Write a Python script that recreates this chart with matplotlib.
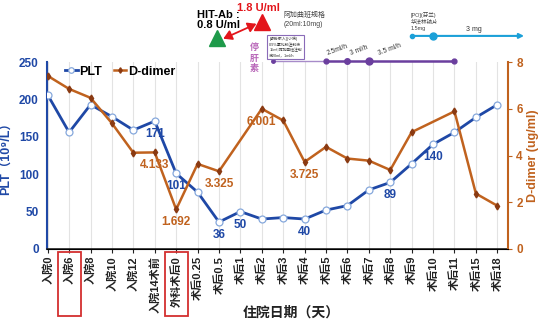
import numpy as np
import matplotlib
matplotlib.use("Agg")
import matplotlib.pyplot as plt
import matplotlib.patches as patches
import matplotlib.transforms as mtransforms

plt.rcParams['font.family'] = ['Liberation Sans', 'DejaVu Sans', 'Noto Sans CJK SC']

# Data
days = ['入院0', '入院6', '入院8', '入院10', '入院12', '入院14术前', '外科术后0',
        '术后0.25', '术后0.5', '术后1', '术后2', '术后3', '术后4', '术后5', '术后6',
        '术后7', '术后8', '术后9', '术后10', '术后11', '术后15', '术后18']
plt_vals = [206, 156, 193, 177, 159, 171, 101, 76, 36, 50, 40, 42, 40, 52, 58,
            79, 89, 114, 140, 156, 176, 193]
ddimer = [7.41, 6.85, 6.47, 5.38, 4.12, 4.133, 1.692, 3.64, 3.325, np.nan, 6.001,
          5.5, 3.725, 4.37, 3.87, 3.78, 3.38, 5.0, np.nan, 5.89, 2.37, 1.85]
plt_labels = {5: '171', 6: '101', 8: '36', 9: '50', 12: '40', 16: '89', 18: '140'}
dd_labels = {5: '4.133', 6: '1.692', 8: '3.325', 10: '6.001', 12: '3.725'}
boxed = [1, 6]

# purple heparin-substitute line, cyan warfarin line
arg_x = [10.5, 13, 14, 15, 19]
arg_ms = [2.5, 3.5, 4, 5, 3.5]
arg_rates = [(13, '2.5ml/h'), (14.1, '3 ml/h'), (15.4, '3.5 ml/h')]
warf_x = [17, 18]

c_plt = '#1f48a6'
c_dd = '#c0621e'
c_purple = '#6b3f9e'

x = np.arange(len(days))
dd = np.array(ddimer)
ok = ~np.isnan(dd)

fig = plt.figure(figsize=(5.41, 3.25), dpi=100)
ax = fig.add_axes([0.087, 0.234, 0.852, 0.575])
ax2 = ax.twinx()

for xi in x:
    ax.axvline(xi, color='#e3e3e3', lw=0.8, zorder=0)

l1, = ax.plot(x, plt_vals, color=c_plt, lw=2, marker='o', ms=5,
              mfc='white', mec='#86a8dc', mew=0.9, label='PLT', zorder=3)
l2, = ax2.plot(x[ok], dd[ok], color=c_dd, lw=1.8, marker='d', ms=3.5,
               mfc='#8a3a12', mec='#8a3a12', label='D-dimer', zorder=3)

for i, s in plt_labels.items():
    ax.annotate(s, (x[i], plt_vals[i]), xytext=(0, -5), textcoords='offset points',
                ha='center', va='top', color=c_plt, fontsize=8.5, fontweight='bold')
for i, s in dd_labels.items():
    ax2.annotate(s, (x[i], dd[i]), xytext=(0, -5), textcoords='offset points',
                 ha='center', va='top', color=c_dd, fontsize=8.5, fontweight='bold')

ax.set_xlim(-0.03, 21.5)
ax.set_ylim(0, 250)
ax2.set_ylim(0, 8)
ax.set_yticks([0, 50, 100, 150, 200, 250])
ax2.set_yticks([0, 2, 4, 6, 8])
ax.set_xticks(x)
ax.set_xticklabels(days, rotation=90, fontsize=8, fontweight='bold', color='#222222')
ax.tick_params(axis='x', length=3, pad=2, color='#222222')
ax.tick_params(axis='y', length=0, labelsize=8.5, labelcolor=c_plt, pad=6)
ax2.tick_params(axis='y', length=3, labelsize=8.5, labelcolor=c_dd, color=c_dd, pad=3)
for t in ax.get_yticklabels() + ax2.get_yticklabels():
    t.set_fontweight('bold')

for a in (ax, ax2):
    a.spines['top'].set_visible(False)
ax.spines['left'].set_color(c_plt)
ax.spines['left'].set_linewidth(1.5)
ax2.spines['left'].set_visible(False)
ax2.spines['right'].set_color(c_dd)
ax2.spines['right'].set_linewidth(1.5)
ax.spines['right'].set_visible(False)
ax.spines['bottom'].set_color('#222222')
ax.spines['bottom'].set_linewidth(1.2)

ax.set_ylabel('PLT（10⁹/L）', color=c_plt, fontsize=9, fontweight='bold', labelpad=4)
ax2.set_ylabel('D-dimer (ug/ml)', color=c_dd, fontsize=9, fontweight='bold', labelpad=3)
ax.set_xlabel('住院日期（天）', fontsize=10, fontweight='bold', color='#222222', labelpad=4)
ax.xaxis.set_label_coords(0.53, -0.305)

ax2.legend([l1, l2], ['PLT', 'D-dimer'], loc='upper left', bbox_to_anchor=(0.015, 1.04),
           ncol=2, frameon=False, handlelength=1.0, handletextpad=0.15, columnspacing=0.9,
           markerscale=0.8, prop={'weight': 'bold', 'size': 9})

# red boxes round two tick labels
bt = mtransforms.blended_transform_factory(ax.transData, fig.transFigure)
for i in boxed:
    fig.patches.append(patches.Rectangle((x[i] - 0.5, 1 - 316 / 325), 1.05, 64 / 325,
                                         transform=bt, fill=False, ec='#d32f2f', lw=1.3))

# annotations above the plot
tt = mtransforms.blended_transform_factory(ax.transData, ax.transAxes)
ax.plot([7.92], [1.13], marker='^', ms=11, color='#1e9a4a', transform=tt, clip_on=False)
ax.plot([10.02], [1.215], marker='^', ms=11, color='#e3151b', transform=tt, clip_on=False)
ax.annotate('', xy=(9.75, 1.205), xytext=(8.2, 1.125), xycoords=tt, textcoords=tt,
            arrowprops=dict(arrowstyle='<|-|>,head_length=0.5,head_width=0.3',
                            color='#e3151b', lw=1.3, mutation_scale=10,
                            shrinkA=0, shrinkB=0))
ax.text(6.95, 1.225, 'HIT-Ab :\n0.8 U/ml', transform=tt, ha='left', va='center',
        fontsize=8, fontweight='bold', linespacing=1.1)
ax.text(8.85, 1.29, '1.8 U/ml', transform=tt, ha='left', va='center',
        fontsize=8, fontweight='bold', color='#e3151b')
ax.text(11.0, 1.225, '阿加曲班规格\n(20ml:10mg)', transform=tt, ha='left', va='center',
        fontsize=5, color='#444444', linespacing=1.3)
ax.text(10.35, 1.08, '[静脉泵入](小病)\n0.9%氯化钠注射液\n15ml,阿加曲班注射\n液20ml，1ml/h',
        transform=tt, ha='left', va='center', fontsize=2.8, color='#333333',
        linespacing=1.3,
        bbox=dict(boxstyle='square,pad=0.5', fc='white', ec='#8a6bb8', lw=0.8))
ax.text(9.66, 1.02, '停\n肝\n素', transform=tt, ha='center', va='center',
        fontsize=6.5, fontweight='bold', color='#b866b8', linespacing=1.2)
ax.plot([arg_x[0], arg_x[1]], [1.005, 1.005], color='#a78bc9', lw=1.0, transform=tt,
        clip_on=False)
ax.plot(arg_x[1:], [1.005] * 4, color=c_purple, lw=1.8, transform=tt, clip_on=False)
for m, s in zip(arg_x, arg_ms):
    ax.plot([m], [1.005], marker='o', ms=s, color=c_purple, transform=tt, clip_on=False)
for xr, s in arg_rates:
    ax.text(xr, 1.03, s, transform=tt, ha='left', va='bottom', fontsize=4.8,
            rotation=20, color='#333333')

ax.annotate('', xy=(22.25, 1.14), xytext=(warf_x[0], 1.14), xycoords=tt, textcoords=tt,
            arrowprops=dict(arrowstyle='-|>', color='#1ba0d8', lw=1.5,
                            mutation_scale=7, shrinkA=0, shrinkB=0))
ax.plot([warf_x[0]], [1.14], marker='o', ms=3, color='#1ba0d8', transform=tt, clip_on=False)
ax.plot([warf_x[1]], [1.14], marker='o', ms=5, color='#1ba0d8', transform=tt, clip_on=False)
ax.text(16.95, 1.27, '[PO](芬兰)\n华法林钠片\n1.5mg', transform=tt, ha='left', va='top',
        fontsize=4, color='#444444', linespacing=1.3)
ax.text(19.9, 1.176, '3 mg', transform=tt, ha='center', va='center', fontsize=5,
        color='#333333')

fig.savefig('out.png', dpi=100)
